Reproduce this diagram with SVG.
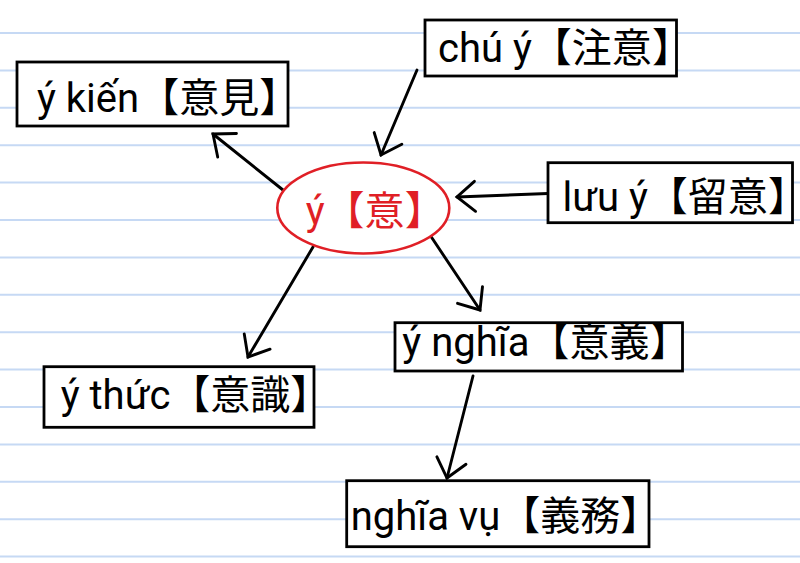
<svg xmlns="http://www.w3.org/2000/svg" width="800" height="563" viewBox="0 0 800 563">
  <defs>
    <marker id="arrow" markerUnits="userSpaceOnUse" markerWidth="40" markerHeight="40" refX="0" refY="0" orient="auto" overflow="visible">
      <path d="M-18,-15 L0,0 L-18,15" fill="none" stroke="#000" stroke-width="2.9" stroke-linecap="round" stroke-linejoin="miter"/>
    </marker>
    <style>
      .ruled { stroke: #c6d9f4; stroke-width: 2; }
      .box { fill: #fff; stroke: #000; stroke-width: 2.8; }
      .lbl { font-family: Roboto, "Noto Sans CJK JP", "Noto Sans CJK TC", sans-serif; font-size: 40px; fill: #000; }
      .red { fill: #e01f26; }
      .half { font-feature-settings: "halt" 1; }
      .conn { stroke: #000; stroke-width: 2.9; fill: none; stroke-linecap: round; marker-end: url(#arrow); }
    </style>
  </defs>
  <rect width="800" height="563" fill="#fff"/>
  <g id="ruled-lines">
    <line class="ruled" x1="0" y1="33" x2="800" y2="33"/>
    <line class="ruled" x1="0" y1="70.4" x2="800" y2="70.4"/>
    <line class="ruled" x1="0" y1="107.8" x2="800" y2="107.8"/>
    <line class="ruled" x1="0" y1="145.2" x2="800" y2="145.2"/>
    <line class="ruled" x1="0" y1="182.6" x2="800" y2="182.6"/>
    <line class="ruled" x1="0" y1="220" x2="800" y2="220"/>
    <line class="ruled" x1="0" y1="257.4" x2="800" y2="257.4"/>
    <line class="ruled" x1="0" y1="294.8" x2="800" y2="294.8"/>
    <line class="ruled" x1="0" y1="332.2" x2="800" y2="332.2"/>
    <line class="ruled" x1="0" y1="369.6" x2="800" y2="369.6"/>
    <line class="ruled" x1="0" y1="407" x2="800" y2="407"/>
    <line class="ruled" x1="0" y1="444.4" x2="800" y2="444.4"/>
    <line class="ruled" x1="0" y1="481.8" x2="800" y2="481.8"/>
    <line class="ruled" x1="0" y1="519.2" x2="800" y2="519.2"/>
    <line class="ruled" x1="0" y1="556.6" x2="800" y2="556.6"/>
  </g>
  <g id="connectors">
    <line class="conn" x1="283" y1="190" x2="213" y2="134"/>
    <line class="conn" x1="417" y1="70" x2="381" y2="155"/>
    <line class="conn" x1="548" y1="193.5" x2="457" y2="197"/>
    <line class="conn" x1="430" y1="235" x2="480" y2="310"/>
    <line class="conn" x1="313" y1="247" x2="248" y2="357"/>
    <line class="conn" x1="473" y1="376" x2="447" y2="478"/>
  </g>
  <g id="node-y">
    <ellipse cx="363.3" cy="208" rx="86" ry="45.5" fill="#fff" stroke="#e01f26" stroke-width="2.6"/>
    <text class="lbl red" x="305.7" y="225">ý【意<tspan class="half">】</tspan></text>
  </g>
  <g id="node-ykien">
    <rect class="box" x="17" y="62" width="271" height="64"/>
    <text class="lbl" x="37" y="112">ý kiến【意見<tspan class="half">】</tspan></text>
  </g>
  <g id="node-chuy">
    <rect class="box" x="425" y="20" width="251.5" height="56"/>
    <text class="lbl" x="438" y="62">chú ý【注意<tspan class="half">】</tspan></text>
  </g>
  <g id="node-luuy">
    <rect class="box" x="548" y="162.7" width="244.5" height="60"/>
    <text class="lbl" x="562.5" y="211">lưu ý【留意<tspan class="half">】</tspan></text>
  </g>
  <g id="node-ythuc">
    <rect class="box" x="44" y="366.7" width="270" height="60.6"/>
    <text class="lbl" x="60.7" y="409.3">ý thức【意識<tspan class="half">】</tspan></text>
  </g>
  <g id="node-ynghia">
    <rect class="box" x="395" y="322.7" width="287.5" height="48.3"/>
    <text class="lbl" x="402.3" y="355.7">ý nghĩa【意義<tspan class="half">】</tspan></text>
  </g>
  <g id="node-nghiavu">
    <rect class="box" x="346.7" y="480.7" width="302.3" height="66"/>
    <text class="lbl" x="350.7" y="530">nghĩa vụ【義務<tspan class="half">】</tspan></text>
  </g>
</svg>
